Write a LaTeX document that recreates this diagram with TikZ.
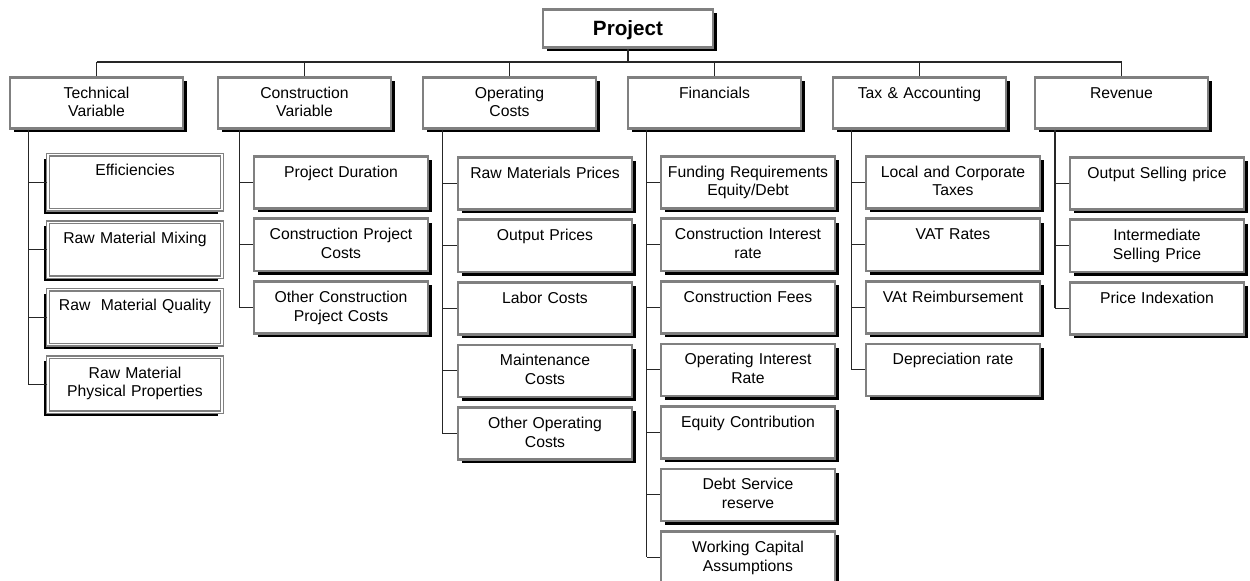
\documentclass[tikz,border=0pt]{standalone}
\usepackage{fontspec}
\setmainfont{Liberation Sans}
\usetikzlibrary{shadows}

\tikzset{
  link/.style={line width=0.8pt, draw=black!85},
  boxbase/.style={draw=gray, line width=2pt, fill=white, inner ysep=0pt, inner xsep=2pt,
    align=center, font=\fontsize{11.8}{14}\selectfont},
  topbox/.style={boxbase, text width=123.5pt, text height=20pt, text depth=8.5pt,
    font=\fontsize{15.5}{17}\selectfont\bfseries,
    drop shadow={fill=black, opacity=1, shadow xshift=3pt, shadow yshift=-3pt}},
  catbox/.style={boxbase, text width=125.75pt, text height=15.75pt, text depth=22.5pt,
    drop shadow={fill=black, opacity=1, shadow xshift=3pt, shadow yshift=-3pt}},
  itembox/.style={boxbase, text width=126.5pt, text height=15.75pt, text depth=23.25pt,
    drop shadow={fill=black, opacity=1, shadow xshift=3pt, shadow yshift=-3pt}},
  techitem/.style={boxbase, line width=1.1pt, double=white, double distance=0.9pt,
    text width=126.5pt, text height=15.75pt, text depth=25.5pt,
    drop shadow={fill=black, opacity=1, shadow xshift=-3pt, shadow yshift=-3pt}},
}

\begin{document}
\begin{tikzpicture}[x=0.75pt, y=-0.75pt]
    \useasboundingbox (0,0) rectangle (1250,581);
    % Top of the tree
    \node[topbox, anchor=north] (project) at (628,8) {Project};
    \coordinate (bus) at (0,62);

    % Main categories hanging from the bus
    \foreach \name/\lx/\txt in {tech/10/{Technical\\Variable}, cons/218/{Construction\\Variable},
        oper/423/{Operating\\Costs}, fin/628/{Financials}, tax/833/{Tax \& Accounting},
        rev/1035/{Revenue}} {
        \node[catbox, anchor=north] (\name) at ({\lx+86.5},76) {\txt};
        \draw[link] (\name.north) -- (\name.north |- bus);
    }
    \draw[link] (project.south) -- (project.south |- bus);
    \draw[link] (tech.north |- bus) -- (rev.north |- bus);

    % Technical variable
    \coordinate (techtrunk) at ([xshift=15pt]tech.south west);
    \foreach \txt [count=\k from 0] in {Efficiencies, Raw Material Mixing,
        Raw~ Material Quality, {Raw Material\\Physical Properties}} {
        \node[techitem, anchor=north] (tech\k) at (135,{154+67.5*\k}) {\txt};
        \draw[link] (tech\k.west) -- (tech\k.west -| techtrunk);
    }
    \draw[link] (techtrunk) -- (techtrunk |- tech3.west);

    % Construction variable
    \coordinate (construnk) at ([xshift=17pt]cons.south west);
    \foreach \txt [count=\k from 0] in {Project Duration, {Construction Project\\Costs},
        {Other Construction\\Project Costs}} {
        \node[itembox, anchor=north] (cons\k) at (341,{155+62.5*\k}) {\txt};
        \draw[link] (cons\k.west) -- (cons\k.west -| construnk);
    }
    \draw[link] (construnk) -- (construnk |- cons2.west);

    % Operating costs
    \coordinate (opertrunk) at ([xshift=15.5pt]oper.south west);
    \foreach \txt [count=\k from 0] in {Raw Materials Prices, Output Prices, Labor Costs,
        {Maintenance\\Costs}, {Other Operating\\Costs}} {
        \node[itembox, anchor=north] (oper\k) at (545,{156+62.5*\k}) {\txt};
        \draw[link] (oper\k.west) -- (oper\k.west -| opertrunk);
    }
    \draw[link] (opertrunk) -- (opertrunk |- oper4.west);

    % Financials
    \coordinate (fintrunk) at ([xshift=15pt]fin.south west);
    \foreach \txt [count=\k from 0] in {{Funding Requirements\\Equity/Debt},
        {Construction Interest\\rate}, Construction Fees, {Operating Interest\\Rate},
        Equity Contribution, {Debt Service\\reserve}, {Working Capital\\Assumptions}} {
        \node[itembox, anchor=north] (fin\k) at (748,{155+62.5*\k}) {\txt};
        \draw[link] (fin\k.west) -- (fin\k.west -| fintrunk);
    }
    \draw[link] (fintrunk) -- (fintrunk |- fin6.west);

    % Tax and accounting
    \coordinate (taxtrunk) at ([xshift=15pt]tax.south west);
    \foreach \txt [count=\k from 0] in {{Local and Corporate\\Taxes}, VAT Rates,
        VAt Reimbursement, Depreciation rate} {
        \node[itembox, anchor=north] (tax\k) at (953,{155+62.5*\k}) {\txt};
        \draw[link] (tax\k.west) -- (tax\k.west -| taxtrunk);
    }
    \draw[link] (taxtrunk) -- (taxtrunk |- tax3.west);

    % Revenue
    \coordinate (revtrunk) at ([xshift=16pt]rev.south west);
    \foreach \txt [count=\k from 0] in {Output Selling price,
        {Intermediate\\Selling Price}, Price Indexation} {
        \node[itembox, anchor=north] (rev\k) at (1157,{156+62.5*\k}) {\txt};
        \draw[link] (rev\k.west) -- (rev\k.west -| revtrunk);
    }
    \draw[link] (revtrunk) -- (revtrunk |- rev2.west);
\end{tikzpicture}
\end{document}
